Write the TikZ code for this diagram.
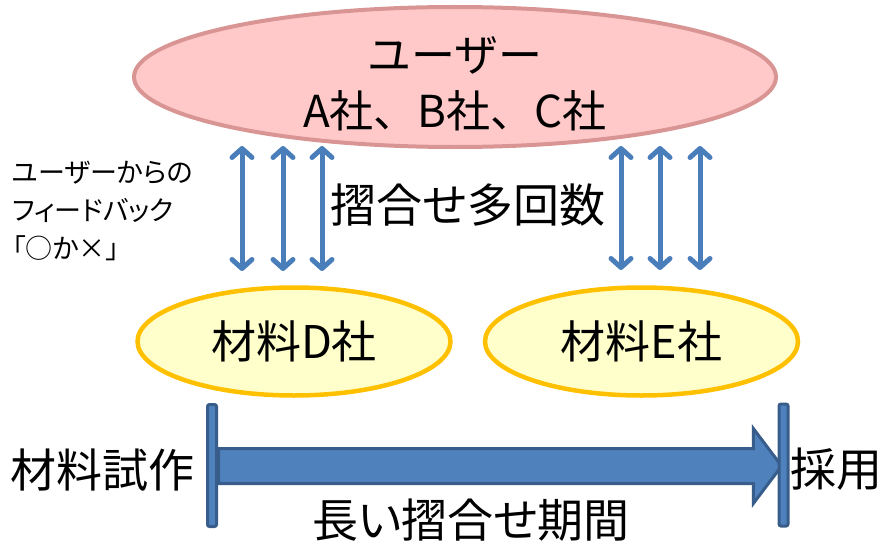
\documentclass[tikz,border=0pt]{standalone}
\usepackage{fontspec}
\setmainfont{Noto Sans CJK JP}[RawFeature=+palt]
\newfontfamily\jpfw{Noto Sans CJK JP}
\usetikzlibrary{arrows.meta,shapes.geometric,shapes.arrows}
\definecolor{pinkfill}{HTML}{FFC9C9}
\definecolor{pinkline}{HTML}{D99594}
\definecolor{yfill}{HTML}{FFFFCC}
\definecolor{yline}{HTML}{FFC000}
\definecolor{mblue}{HTML}{4F81BD}
\definecolor{dblue}{HTML}{385D8A}
\definecolor{ablue}{HTML}{4A7EBB}
\tikzset{
  userell/.style={ellipse, draw=pinkline, fill=pinkfill, line width=4pt,
    minimum width=642pt, minimum height=140pt, inner sep=0pt},
  usertext/.style={inner sep=0pt, font=\jpfw\fontsize{44}{57}\selectfont},
  makerell/.style={ellipse, draw=yline, fill=yfill, line width=4.5pt,
    minimum width=313pt, minimum height=108pt, inner sep=0pt,
    font=\fontsize{45}{54}\selectfont},
  fbarrow/.style={draw=ablue, line width=5pt,
    {Straight Barb[length=9pt,width=20pt,round]}-{Straight Barb[length=9pt,width=20pt,round]}},
  bigtext/.style={inner sep=0pt, font=\fontsize{46}{55}\selectfont},
  smalltext/.style={inner sep=0pt, align=left, font=\fontsize{27}{38}\selectfont},
  barbox/.style={rectangle, draw=dblue, fill=mblue, line width=3pt,
    rounded corners=2pt, minimum width=9pt, minimum height=122pt, inner sep=0pt},
  periodarrow/.style={single arrow, draw=dblue, fill=mblue, line width=3pt,
    inner ysep=16pt, inner xsep=0pt, single arrow head extend=20pt,
    single arrow head indent=0pt, single arrow tip angle=106,
    minimum height=563pt},
}
\begin{document}
\begin{tikzpicture}[x=1pt,y=-1pt]
\useasboundingbox (0,0) rectangle (886,543);

% user ellipse
\node[userell] (users) at (455,77) {};
\node[usertext] (userline1) at (455,55) {ユーザー};
\node[usertext] (userline2) at (455,111) {A社、B社、C社};

% maker ellipses
\node[makerell] (makerD) at (294,341.5) {材料D社};
\node[makerell] (makerE) at (641.5,341.5) {材料E社};

% feedback arrows
\coordinate (t1) at (242,146); \coordinate (b1) at (242,271);
\coordinate (t2) at (283,146); \coordinate (b2) at (283,271);
\coordinate (t3) at (322,146); \coordinate (b3) at (322,271);
\coordinate (t4) at (621,146); \coordinate (b4) at (621,270);
\coordinate (t5) at (660,146); \coordinate (b5) at (660,270);
\coordinate (t6) at (700,146); \coordinate (b6) at (700,270);
\foreach \i in {1,...,6} { \draw[fbarrow] (t\i) -- (b\i); }

% texts
\node[smalltext, anchor=west] (feedback) at (12,211) {ユーザーからの\\フィードバック\\「○か×」};
\node[bigtext] (many) at (468,205) {摺合せ多回数};

% timeline
\node[periodarrow] (period) at (493.5,466) {};
\node[barbox] (startbar) at (212,465.5) {};
\node[barbox] (endbar) at (783.5,465) {};
\node[bigtext] (trial) at (102,470) {材料試作};
\node[bigtext] (adopt) at (836,469) {採用};
\node[bigtext] (periodlabel) at (471,520) {長い摺合せ期間};
\end{tikzpicture}
\end{document}
